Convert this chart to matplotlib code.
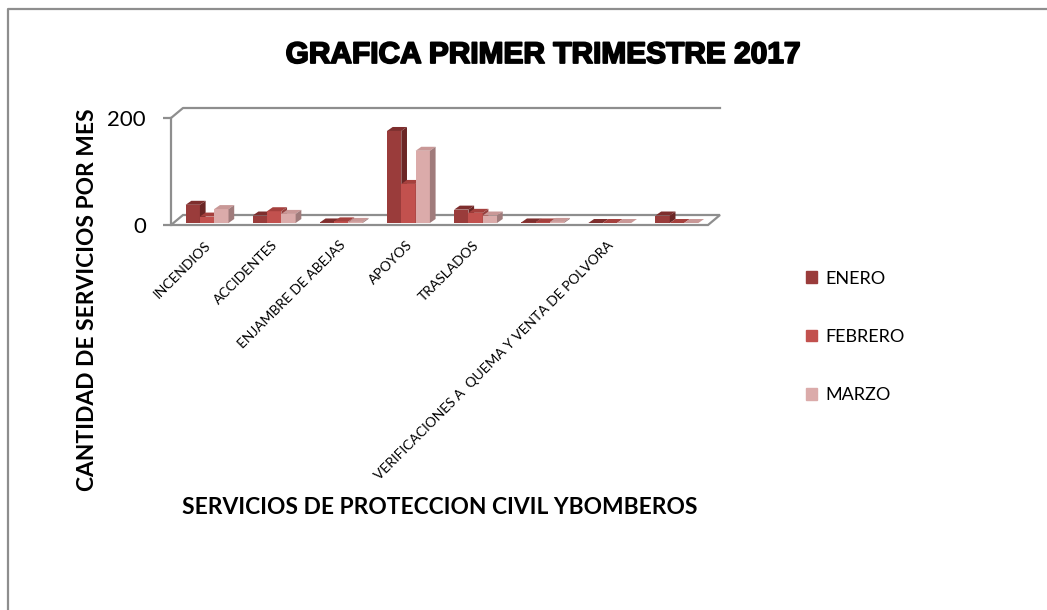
import matplotlib
matplotlib.use('Agg')
import matplotlib.pyplot as plt
import matplotlib.patches as patches
import matplotlib.patheffects as pe
from matplotlib.lines import Line2D
import numpy as np

plt.rcParams['font.family'] = ['Lato', 'DejaVu Sans']

categorias = ['INCENDIOS', 'ACCIDENTES', 'ENJAMBRE DE ABEJAS', 'APOYOS', 'TRASLADOS',
              '', 'VERIFICACIONES A  QUEMA Y VENTA DE POLVORA', '']
meses = ['ENERO', 'FEBRERO', 'MARZO']
enero = [34, 14, 1, 172, 25, 1, 0, 14]
febrero = [12, 22, 3, 73, 19, 1, 0, 0]
marzo = [26, 17, 2, 135, 14, 2, 0, 0]
y_ticks = [0, 200]

# front / top / side shades per series
colores = {
    'ENERO': ('#9A3C3B', '#7E2E2D', '#6B2625'),
    'FEBRERO': ('#C2514E', '#A5403D', '#94403E'),
    'MARZO': ('#DBABAA', '#C99897', '#A07B7B'),
}
gris = '#8E8E8E'

W, H = 1047, 610
fig = plt.figure(figsize=(W / 100, H / 100), dpi=100)
ax = fig.add_axes([171 / W, 385 / H, 537 / W, 107 / H])
n = len(categorias)
ax.set_xlim(-0.5, n - 0.5)
ax.set_ylim(0, 200)
for s in ax.spines.values():
    s.set_visible(False)

px_x = 537 / n          # pixels per category
px_y = 107 / 200        # pixels per unit
wall_dx, wall_dy = 12 / px_x, 10 / px_y
bar_dx, bar_dy = 5.7 / px_x, 4 / px_y
base_dx, base_dy = 2.5 / px_x, 2 / px_y
w = 14.3 / px_x

# floor and walls
x0, x1 = -0.5, n - 0.5
floor = patches.Polygon([(x0, 0), (x1, 0), (x1 + wall_dx, wall_dy), (x0 + wall_dx, wall_dy)],
                        closed=True, fill=False, edgecolor=gris, lw=1.6, clip_on=False, zorder=1)
ax.add_patch(floor)
ax.add_line(Line2D([x0, x0], [0, 200], color=gris, lw=1.6, clip_on=False))
ax.add_line(Line2D([x0, x0 + wall_dx, x1 + wall_dx], [200, 200 + wall_dy, 200 + wall_dy],
                   color=gris, lw=1.6, clip_on=False))

series = [enero, febrero, marzo]
x = np.arange(n)
for j, (mes, vals) in enumerate(zip(meses, series)):
    front, top, side = colores[mes]
    left = x - 1.5 * w + j * w + base_dx
    ax.bar(left, vals, width=w, bottom=base_dy, align='edge', color=front, zorder=3 + j,
           clip_on=False, label=mes)
    for xl, v in zip(left, vals):
        yt = base_dy + v
        ax.add_patch(patches.Polygon([(xl, yt), (xl + w, yt), (xl + w + bar_dx, yt + bar_dy),
                                      (xl + bar_dx, yt + bar_dy)], color=top, lw=0,
                                     zorder=3 + j, clip_on=False))
        ax.add_patch(patches.Polygon([(xl + w, base_dy), (xl + w + bar_dx, base_dy + bar_dy),
                                      (xl + w + bar_dx, yt + bar_dy), (xl + w, yt)], color=side,
                                     lw=0, zorder=3 + j, clip_on=False))

ax.set_yticks(y_ticks)
ax.set_yticklabels([str(t) for t in y_ticks], fontsize=16)
ax.tick_params(axis='y', length=6, width=1.6, color=gris, pad=12)
ax.set_xticks(x)
ax.set_xticklabels(categorias, rotation=45, ha='right', rotation_mode='anchor', fontsize=10)
ax.tick_params(axis='x', length=0, pad=10)

fig.text(543 / W, 1 - 55 / H, 'GRAFICA PRIMER TRIMESTRE 2017', ha='center', va='center',
         fontsize=21.5, fontweight='bold', family='Liberation Sans',
         path_effects=[pe.withStroke(linewidth=1.3, foreground='black')])
fig.text(88 / W, 1 - 300 / H, 'CANTIDAD DE SERVICIOS POR MES', rotation=90, ha='center',
         va='center', fontsize=16.4, fontweight='bold')
fig.text(440 / W, 1 - 508 / H, 'SERVICIOS DE PROTECCION CIVIL YBOMBEROS', ha='center',
         va='center', fontsize=16.4, fontweight='bold')

handles = [patches.Patch(color=colores[m][0], label=m) for m in meses]
fig.legend(handles=handles, loc='center left', bbox_to_anchor=(797 / W, 1 - 337 / H),
           frameon=False, fontsize=13, handlelength=0.6, handleheight=0.6,
           handletextpad=0.45, labelspacing=2.35, borderpad=0)

# chart frame
fig.add_artist(Line2D([8 / W, 8 / W, 1], [0, 1 - 9 / H, 1 - 9 / H], color=gris, lw=1.6,
                      transform=fig.transFigure))

fig.savefig('out.png', dpi=100)
